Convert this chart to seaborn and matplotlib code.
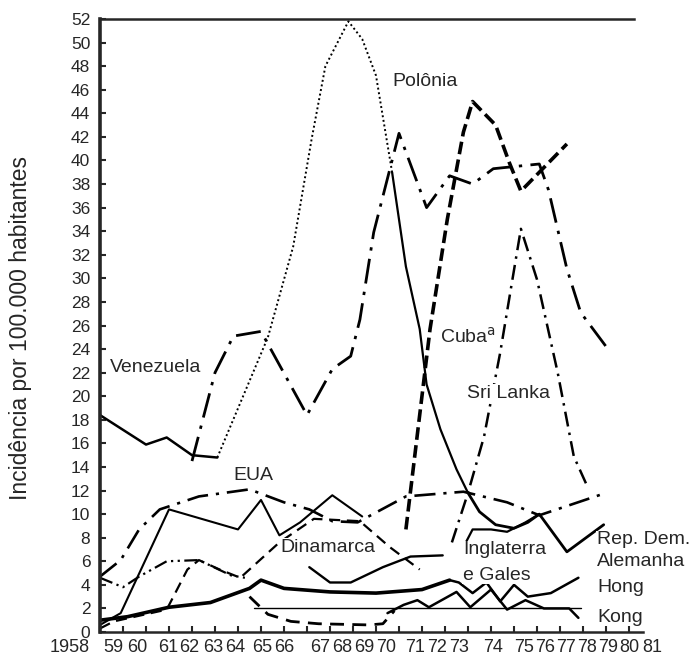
import numpy as np
import pandas as pd
import matplotlib
matplotlib.use("Agg")
import matplotlib.pyplot as plt
import seaborn as sns

sns.set_style("ticks")
plt.rcParams['font.family'] = ['Liberation Sans', 'DejaVu Sans']

# Values: year, incidence per 100 000
venezuela_years = [1958, 1960, 1960.9, 1962, 1963.1]
venezuela_vals = [18.4, 15.9, 16.5, 15.0, 14.8]

venez_b_years = [1962, 1963, 1963.8, 1965, 1967, 1968.1, 1968.9, 1969.3, 1969.9, 1971,
                 1972.2, 1973.2, 1974.2, 1975.1, 1977.1, 1977.5, 1978.3, 1978.9, 1980.2]
venez_b_vals = [14.5, 22.0, 25.1, 25.5, 18.4, 22.3, 23.4, 26.5, 33.9, 42.3,
                36.0, 38.7, 38.0, 39.3, 39.7, 37.5, 30.8, 27.1, 23.7]

polonia_years = [1963.1, 1965.3, 1966.4, 1967.2, 1967.8, 1968.8, 1969.4, 1970, 1970.7]
polonia_vals = [14.8, 25.0, 32.7, 41.8, 48.0, 51.8, 50.3, 47.2, 39.0]

polonia_tail_years = [1970.7, 1971.3, 1971.9, 1972.2, 1972.8, 1973.5, 1974.0]
polonia_tail_vals = [39.0, 31.0, 25.7, 21.0, 17.2, 13.8, 11.8]

cuba_years = [1971.3, 1972.35, 1973.1, 1973.8, 1974.2, 1975.2, 1975.8, 1976.3, 1977.1, 1978.3]
cuba_vals = [8.7, 25.7, 35.0, 42.4, 45.0, 43.0, 39.8, 37.4, 39.0, 41.4]

srilanka_years = [1973.3, 1974.0, 1974.7, 1975.4, 1976.3, 1977.0, 1977.9, 1978.6, 1979.2]
srilanka_vals = [7.6, 11.8, 16.6, 23.7, 34.2, 29.9, 22.0, 14.9, 12.3]

eua_years = [1958, 1958.9, 1959.7, 1960.6, 1962.3, 1964.5, 1966, 1967.1, 1968.1, 1969.2,
             1971.3, 1973.8, 1975.7, 1977.1, 1980]
eua_vals = [4.7, 6.1, 8.7, 10.4, 11.5, 12.1, 11.0, 10.4, 9.4, 9.3,
            11.5, 11.9, 11.0, 9.9, 11.8]

solid_b_years = [1958, 1958.9, 1961, 1964, 1965, 1965.8, 1966.7, 1968.1, 1969.4]
solid_b_vals = [0.6, 1.6, 10.4, 8.7, 11.2, 8.2, 9.3, 11.6, 9.8]

dinamarca_years = [1958, 1958.6, 1960.9, 1961.8, 1962.3, 1963.2, 1964.1, 1965.8, 1967.3,
                   1969.3, 1970.6, 1971.9]
dinamarca_vals = [0.3, 0.9, 1.9, 5.3, 6.1, 5.3, 4.6, 7.6, 9.6, 9.4, 7.2, 5.3]

ddot_years = [1958, 1959, 1959.7, 1960.9, 1962.3, 1963.7, 1964.3]
ddot_vals = [4.6, 3.8, 4.7, 6.0, 6.1, 4.8, 4.6]

dinamarca_b_years = [1967.1, 1968.0, 1968.9, 1970.3, 1971.5, 1972.9]
dinamarca_b_vals = [5.5, 4.2, 4.2, 5.5, 6.4, 6.5]

thick_years = [1958, 1959.2, 1961, 1962.8, 1964.5, 1965, 1966, 1968, 1970, 1972, 1973.2]
thick_vals = [1.0, 1.3, 2.1, 2.5, 3.7, 4.4, 3.7, 3.4, 3.3, 3.6, 4.4]

inglaterra_years = [1973.2, 1973.6, 1974.2, 1974.8, 1975.4, 1976.0, 1976.6, 1977.6, 1978.8]
inglaterra_vals = [4.4, 4.2, 3.3, 4.2, 2.6, 4.0, 3.0, 3.3, 4.6]

ing_top_years = [1973.8, 1974.2, 1975.0, 1975.7, 1976.5, 1977.1]
ing_top_vals = [7.2, 8.7, 8.7, 8.5, 9.3, 10.0]

repdem_years = [1974.0, 1974.5, 1975.2, 1976.0, 1976.6, 1977.1, 1978.3, 1979.9]
repdem_vals = [11.8, 10.2, 9.1, 8.8, 9.3, 10.0, 6.8, 9.1]

hongkong_years = [1970.5, 1971.2, 1971.8, 1972.3, 1973.5, 1974.1, 1975.0, 1975.7, 1976.5,
                  1977.3, 1978.4, 1978.8]
hongkong_vals = [1.6, 2.3, 2.7, 2.1, 3.4, 2.1, 3.6, 1.9, 2.7, 2.0, 2.0, 1.2]

hk_flat_years = [1964.7, 1978.9]
hk_flat_vals = [2.0, 2.0]

low_dash_years = [1964.5, 1965.3, 1966.3, 1967.5, 1969.7, 1970.3, 1970.8]
low_dash_vals = [3.0, 1.5, 0.9, 0.7, 0.6, 0.7, 1.8]

years = list(range(1958, 1982))
year_labels = ['1958'] + [str(y)[2:] for y in years[1:]]

# layout: x-label centres in pixels (labels are packed in groups in the original)
xlabel_px = [70, 113, 137, 168, 189, 213, 235, 262, 284, 320, 342, 364, 386,
             415, 437, 459, 493, 524, 545, 566, 587, 608, 629, 652]

W, H = 694, 662
fig = plt.figure(figsize=(W / 100, H / 100), dpi=100)
ax = fig.add_axes([100 / W, 1 - 632 / H, 543 / W, 613 / H])

series = [
    (venezuela_years, venezuela_vals, '-', 1.8),
    (venez_b_years, venez_b_vals, (0, (9, 3, 1.2, 3)), 2.0),
    (polonia_years, polonia_vals, (0, (1, 1.4)), 1.4),
    (polonia_tail_years, polonia_tail_vals, '-', 1.6),
    (cuba_years, cuba_vals, (0, (3.5, 1.5)), 2.6),
    (srilanka_years, srilanka_vals, (0, (6, 2.5, 1, 2.5)), 1.8),
    (eua_years, eua_vals, (0, (8, 3, 1.2, 3)), 1.9),
    (solid_b_years, solid_b_vals, '-', 1.5),
    (dinamarca_years, dinamarca_vals, (0, (5, 3)), 1.6),
    (ddot_years, ddot_vals, (0, (6, 2, 1, 2, 1, 2)), 1.6),
    (dinamarca_b_years, dinamarca_b_vals, '-', 1.7),
    (thick_years, thick_vals, '-', 2.6),
    (inglaterra_years, inglaterra_vals, '-', 1.8),
    (ing_top_years, ing_top_vals, '-', 1.6),
    (repdem_years, repdem_vals, '-', 2.0),
    (hongkong_years, hongkong_vals, '-', 1.8),
    (hk_flat_years, hk_flat_vals, '-', 1.0),
    (low_dash_years, low_dash_vals, (0, (5, 3)), 2.0),
]

for xs, ys, ls, lw in series:
    df = pd.DataFrame({'ano': xs, 'inc': ys})
    sns.lineplot(data=df, x='ano', y='inc', ax=ax, color='black', linestyle=ls,
                 linewidth=lw, estimator=None, sort=False, legend=False)

ax.set_xlim(1958, 1958 + 543 / 23)
ax.set_ylim(0, 52)
ax.set_xlabel('')
ax.set_ylabel('')

ax.spines['right'].set_visible(False)
ax.spines['left'].set_linewidth(2.6)
ax.spines['bottom'].set_linewidth(1.8)
ax.spines['top'].set_linewidth(1.8)
ax.spines['top'].set_bounds(1958, 1981.2)

ax.set_yticks(np.arange(0, 53, 2))
ax.tick_params(axis='y', direction='in', length=4, width=1.5, labelsize=12.5, pad=7)
ax.set_xticks(years)
ax.set_xticklabels([])
ax.tick_params(axis='x', direction='in', length=4, width=1.5)

for lbl, px in zip(year_labels, xlabel_px):
    fig.text(px / W, 1 - 648 / H, lbl, ha='center', va='center', fontsize=13)

fig.text(21 / W, 1 - 328 / H, 'Incidência por 100.000 habitantes', rotation=90,
         ha='center', va='center', fontsize=16.5)

notes = [
    ('Polônia', 392, 82),
    ('Venezuela', 110, 368),
    ('EUA', 233, 475),
    ('Dinamarca', 280, 547),
    ('Cuba$^{\\mathrm{a}}$', 440, 337),
    ('Sri Lanka', 467, 393),
    ('Inglaterra', 463, 550),
    ('e Gales', 463, 575),
    ('Rep. Dem.', 597, 540),
    ('Alemanha', 597, 562),
    ('Hong', 597, 588),
    ('Kong', 597, 617),
]
for txt, px, py in notes:
    fig.text(px / W, 1 - py / H, txt, ha='left', va='center', fontsize=14,
             bbox=dict(facecolor='white', edgecolor='none', pad=0.5))

fig.savefig('out.png', dpi=100)
